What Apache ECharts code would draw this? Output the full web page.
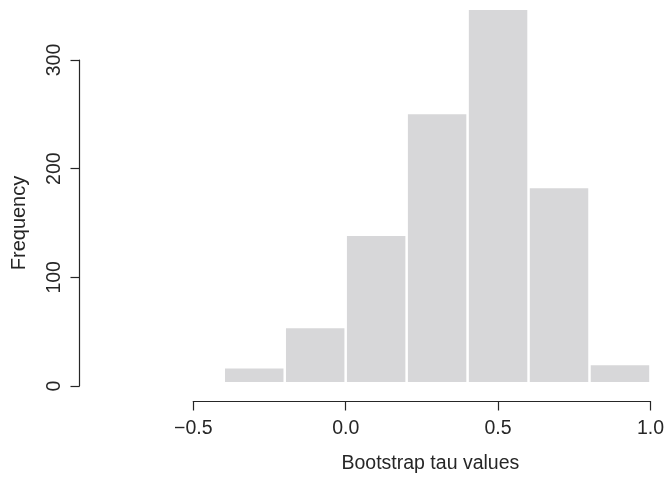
<!DOCTYPE html>
<html>
<head>
<meta charset="utf-8">
<script src="https://cdn.jsdelivr.net/npm/echarts@6/dist/echarts.min.js"></script>
<style>
  html, body { margin: 0; padding: 0; background: #fff; }
  #chart { width: 667px; height: 479px; }
</style>
</head>
<body>
<div id="chart"></div>
<script>
// Histogram bins of bootstrap tau estimates
const binStarts = [-0.4, -0.2, 0.0, 0.2, 0.4, 0.6, 0.8];
const binWidth = 0.2;
const counts = [17, 54, 139, 251, 347, 183, 20];
const xTicks = [-0.5, 0.0, 0.5, 1.0];
const yTicks = [0, 100, 200, 300];

const FONT = 'Liberation Sans, Arial, Helvetica, sans-serif';
const INK = '#262626';
const BAR = '#d7d7d9';

const binData = binStarts.map((s, i) => [s, s + binWidth, counts[i]]);

const chart = echarts.init(document.getElementById('chart'), null, { renderer: 'canvas' });

chart.setOption({
  animation: false,
  backgroundColor: '#ffffff',
  grid: { left: 193.3, right: 16, top: 60, bottom: 85.7, containLabel: false },
  xAxis: {
    type: 'value',
    min: xTicks[0],
    max: xTicks[xTicks.length - 1],
    interval: 0.5,
    offset: 15,
    splitLine: { show: false },
    axisLine: { show: true, onZero: false, lineStyle: { color: INK, width: 1.2 } },
    axisTick: { show: true, length: 9.5, lineStyle: { color: INK, width: 1.2 } },
    axisLabel: {
      show: true, margin: 18, color: INK, fontFamily: FONT, fontSize: 19.5,
      showMinLabel: true, showMaxLabel: true,
      formatter: v => (v < 0 ? '\u2212' : '') + Math.abs(v).toFixed(1)
    },
    name: 'Bootstrap tau values',
    nameLocation: 'middle',
    nameGap: 53,
    nameTextStyle: { color: INK, fontFamily: FONT, fontSize: 19.5, padding: [0, 0, 0, 17] }
  },
  yAxis: {
    type: 'value',
    min: yTicks[0],
    max: yTicks[yTicks.length - 1],
    interval: 100,
    offset: 113.8,
    splitLine: { show: false },
    axisLine: { show: true, onZero: false, lineStyle: { color: INK, width: 1.2 } },
    axisTick: { show: true, length: 9, lineStyle: { color: INK, width: 1.2 } },
    axisLabel: {
      show: true, margin: 15, rotate: 90, color: INK, fontFamily: FONT, fontSize: 19.5,
      showMinLabel: true, showMaxLabel: true
    },
    name: 'Frequency',
    nameLocation: 'middle',
    nameGap: 50,
    nameTextStyle: { color: INK, fontFamily: FONT, fontSize: 20 }
  },
  series: [{
    type: 'custom',
    clip: false,
    data: binData,
    encode: { x: [0, 1], y: 2 },
    renderItem: function (params, api) {
      const p0 = api.coord([api.value(0), 0]);
      const p1 = api.coord([api.value(1), api.value(2)]);
      const left = p0[0] + 1.25;
      const right = p1[0] - 1.25;
      const top = p1[1] + 1;
      const bottom = p0[1] - 4;
      return {
        type: 'rect',
        shape: { x: left, y: top, width: right - left, height: bottom - top },
        style: { fill: BAR }
      };
    }
  }]
});
</script>
</body>
</html>
